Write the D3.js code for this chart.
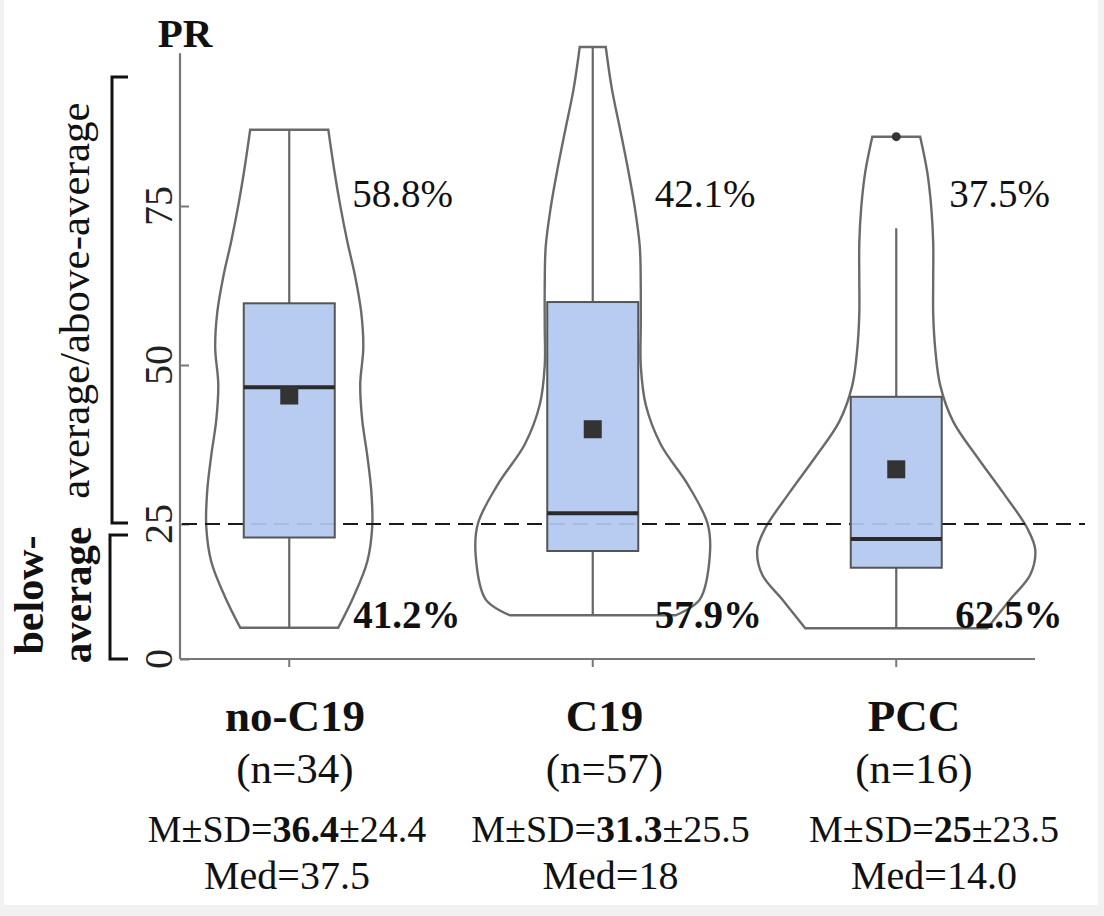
<!DOCTYPE html>
<html><head><meta charset="utf-8">
<script src="https://cdn.jsdelivr.net/npm/d3@7"></script>
<style>html,body{margin:0;padding:0;background:#f1f1f1;} svg{display:block}</style>
</head><body><svg id="c" width="1104" height="916"></svg>
<script>
// ---------- data ----------
const groups = ["no-C19", "C19", "PCC"];
const nLabels = ["(n=34)", "(n=57)", "(n=16)"];
const meanText = ["36.4", "31.3", "25"];
const sdText = ["24.4", "25.5", "23.5"];
const medText = ["37.5", "18", "14.0"];
const abovePct = ["58.8%", "42.1%", "37.5%"];
const belowPct = ["41.2%", "57.9%", "62.5%"];

const q1 = [22.5, 20, 16.9];
const q3 = [59.7, 59.9, 45];
const medians = [46.5, 26.7, 22.2];
const means = [45.2, 39.9, 33.6];
const whiskLo = [5.8, 8.1, 5.7];
const whiskHi = [87, 100, 71.5];
const outliers = [[], [], [85.9]];

const yTicks = [0, 25, 50, 75];
const cutoff = 25;

// violin outlines: PR value and relative density (half width)
const noC19PR   = [87, 80.7, 75.1, 69.5, 63.9, 58.3, 52.7, 47.0, 41.4, 35.8, 30.2, 24.6, 18.0, 11.4, 5.8];
const noC19Dens = [0.279, 0.321, 0.364, 0.414, 0.471, 0.514, 0.529, 0.507, 0.521, 0.557, 0.586, 0.593, 0.557, 0.457, 0.35];
const c19PR     = [100, 93.5, 87.3, 81.0, 74.8, 68.6, 62.3, 56.1, 49.9, 43.7, 37.5, 31.2, 25, 19.1, 11.0, 8.1];
const c19Dens   = [0.093, 0.136, 0.193, 0.25, 0.3, 0.336, 0.343, 0.343, 0.343, 0.379, 0.486, 0.679, 0.821, 0.836, 0.764, 0.593];
const pccPR     = [85.9, 80.4, 74.8, 69.2, 63.6, 58.0, 52.4, 46.8, 41.1, 35.5, 29.9, 24.2, 20.2, 15.6, 11.0, 5.7];
const pccDens   = [0.171, 0.221, 0.25, 0.264, 0.264, 0.264, 0.279, 0.314, 0.407, 0.579, 0.764, 0.936, 0.993, 0.957, 0.814, 0.65];

const violinPR = [noC19PR, c19PR, pccPR];
const violinDens = [noC19Dens, c19Dens, pccDens];

// ---------- layout ----------
const svg = d3.select("#c");
const FONT = "'Liberation Serif', 'Times New Roman', serif";
svg.append("rect").attr("x", 4).attr("y", 0).attr("width", 1094).attr("height", 905).attr("fill", "#fff");

const y = d3.scaleLinear().domain([0, 25, 100]).range([659, 524, 47]);
const x = d3.scaleBand().domain(groups).range([137.5, 1048]);
const cx = g => x(g) + x.bandwidth() / 2;
const w = d3.scaleLinear().domain([0, 1]).range([0, 140]);
const xName = d3.scalePoint().domain(groups).range([295, 914]);
const xStat = d3.scalePoint().domain(groups).range([287, 934]);
const boxW = 91;
const pctOffAbove = [63, 62, 53];
const pctOffBelow = [64, 62, 59];

// axes
const yAxis = svg.append("g").attr("transform", "translate(180,0)")
  .call(d3.axisRight(y).tickValues(yTicks).tickSize(9).tickFormat(""));
yAxis.select(".domain").remove();
yAxis.selectAll(".tick line").attr("stroke", "#777").attr("stroke-width", 2);
svg.append("line").attr("x1", 180).attr("x2", 180).attr("y1", y(0)).attr("y2", y(99))
  .attr("stroke", "#777").attr("stroke-width", 2.2);

const xAxis = svg.append("g").attr("transform", `translate(0,${y(0)})`)
  .call(d3.axisBottom(x).tickSize(8).tickFormat(""));
xAxis.select(".domain").remove();
xAxis.selectAll(".tick line").attr("stroke", "#777").attr("stroke-width", 2);
svg.append("line").attr("x1", 180).attr("x2", 1035).attr("y1", y(0)).attr("y2", y(0))
  .attr("stroke", "#777").attr("stroke-width", 2.2);

// y tick labels (rotated)
svg.selectAll(".ylab").data(yTicks).enter().append("text")
  .attr("transform", d => `translate(172,${y(d)}) rotate(-90)`)
  .attr("text-anchor", "middle").attr("font-family", FONT).attr("font-size", 40)
  .attr("fill", "#222").text(d => d);

// PR label
svg.append("text").attr("x", 185).attr("y", 47).attr("text-anchor", "middle")
  .attr("font-family", FONT).attr("font-weight", "bold").attr("font-size", 41).attr("fill", "#111").text("PR");

// brackets
const bracket = (x0, y0, y1) => svg.append("path")
  .attr("d", `M128,${y0}H${x0}V${y1}H128`).attr("fill", "none").attr("stroke", "#111").attr("stroke-width", 3);
bracket(112, 77, y(cutoff) - 1);
bracket(110, y(cutoff) + 11, y(0));

svg.append("text").attr("transform", `translate(89,${(77 + y(cutoff)) / 2}) rotate(-90)`)
  .attr("text-anchor", "middle").attr("font-family", FONT).attr("font-size", 43).attr("fill", "#111")
  .text("average/above-average");
svg.append("text").attr("transform", `translate(43,595) rotate(-90)`)
  .attr("text-anchor", "middle").attr("font-family", FONT).attr("font-weight", "bold").attr("font-size", 42).attr("fill", "#111")
  .text("below-");
svg.append("text").attr("transform", `translate(91,595) rotate(-90)`)
  .attr("text-anchor", "middle").attr("font-family", FONT).attr("font-weight", "bold").attr("font-size", 41).attr("fill", "#111")
  .text("average");

// violins
groups.forEach((g, i) => {
  const c = cx(g);
  const pts = violinPR[i].map((v, k) => ({ v, d: violinDens[i][k] }));
  const area = d3.area().curve(d3.curveCatmullRom)
    .y(d => y(d.v)).x0(d => c - w(d.d)).x1(d => c + w(d.d));
  svg.append("path").attr("d", area(pts)).attr("fill", "none")
    .attr("stroke", "#6a6a6a").attr("stroke-width", 2.4);
});

// whiskers
groups.forEach((g, i) => {
  const c = cx(g);
  svg.append("line").attr("x1", c).attr("x2", c).attr("y1", y(whiskHi[i])).attr("y2", y(q3[i]))
    .attr("stroke", "#666").attr("stroke-width", 2.2);
  svg.append("line").attr("x1", c).attr("x2", c).attr("y1", y(q1[i])).attr("y2", y(whiskLo[i]))
    .attr("stroke", "#666").attr("stroke-width", 2.2);
});

// cutoff dashed line
svg.append("line").attr("x1", 182).attr("x2", 1085).attr("y1", y(cutoff)).attr("y2", y(cutoff))
  .attr("stroke", "#1a1a1a").attr("stroke-width", 2).attr("stroke-dasharray", "15,8");

// boxes
groups.forEach((g, i) => {
  const c = cx(g);
  svg.append("rect").attr("x", c - boxW / 2).attr("width", boxW)
    .attr("y", y(q3[i])).attr("height", y(q1[i]) - y(q3[i]))
    .attr("fill", "#b1c8ef").attr("fill-opacity", 0.93).attr("stroke", "#555").attr("stroke-width", 2);
  svg.append("line").attr("x1", c - boxW / 2).attr("x2", c + boxW / 2)
    .attr("y1", y(medians[i])).attr("y2", y(medians[i])).attr("stroke", "#2a2a2a").attr("stroke-width", 4);
  svg.append("rect").attr("x", c - 9).attr("y", y(means[i]) - 9).attr("width", 18).attr("height", 18)
    .attr("fill", "#333");
  outliers[i].forEach(o => svg.append("circle").attr("cx", c).attr("cy", y(o)).attr("r", 4.5).attr("fill", "#333"));
});

// percentages
groups.forEach((g, i) => {
  svg.append("text").attr("x", cx(g) + pctOffAbove[i]).attr("y", 207)
    .attr("font-family", FONT).attr("font-size", 39).attr("fill", "#111").text(abovePct[i]);
  svg.append("text").attr("x", cx(g) + pctOffBelow[i]).attr("y", 628)
    .attr("font-family", FONT).attr("font-weight", "bold").attr("font-size", 39).attr("fill", "#111").text(belowPct[i]);
});

// category labels
groups.forEach((g, i) => {
  svg.append("text").attr("x", xName(g)).attr("y", 731).attr("text-anchor", "middle")
    .attr("font-family", FONT).attr("font-weight", "bold").attr("font-size", 45).attr("fill", "#111").text(g);
  svg.append("text").attr("x", xName(g)).attr("y", 783).attr("text-anchor", "middle")
    .attr("font-family", FONT).attr("font-size", 43).attr("fill", "#111").text(nLabels[i]);
  const t = svg.append("text").attr("x", xStat(g)).attr("y", 842).attr("text-anchor", "middle")
    .attr("font-family", FONT).attr("font-size", 38).attr("fill", "#111");
  t.append("tspan").text("M±SD=");
  t.append("tspan").attr("font-weight", "bold").text(meanText[i]);
  t.append("tspan").text("±" + sdText[i]);
  svg.append("text").attr("x", xStat(g)).attr("y", 889).attr("text-anchor", "middle")
    .attr("font-family", FONT).attr("font-size", 40).attr("fill", "#111").text("Med=" + medText[i]);
});
</script></body></html>
